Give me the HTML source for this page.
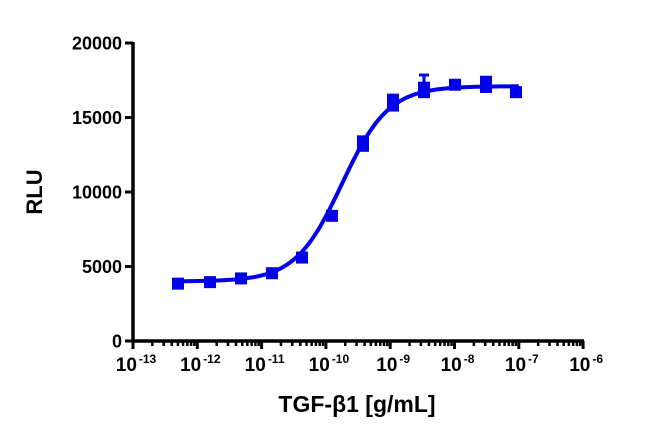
<!DOCTYPE html>
<html><head><style>body{margin:0;background:#fff}svg{display:block;font-family:"Liberation Sans",Arial,sans-serif;font-weight:bold}</style></head>
<body>
<svg id="s" width="650" height="438" viewBox="0 0 650 438"></svg>
<script>
const s=document.getElementById('s');
const X0=133,DEC=64.3,Y0=341,K=298/20000;
const xp=l=>X0+(l+13)*DEC, yp=v=>Y0-v*K;
let h='';
h+=`<line x1="${X0}" y1="${Y0}" x2="${X0}" y2="42" stroke="#000" stroke-width="3.5"/>`;
h+=`<line x1="${X0-1.5}" y1="${Y0}" x2="584" y2="${Y0}" stroke="#000" stroke-width="3.5"/>`;
for(let i=0;i<=4;i++){const y=yp(i*5000);
 h+=`<line x1="${X0-8}" y1="${y}" x2="${X0}" y2="${y}" stroke="#000" stroke-width="3"/>`;
 h+=`<text x="${X0-11}" y="${y+6.5}" font-size="18" text-anchor="end">${i*5000}</text>`;}
for(let d=-13;d<=-6;d++){const x=xp(d);
 h+=`<line x1="${x}" y1="${Y0}" x2="${x}" y2="${Y0+8}" stroke="#000" stroke-width="3"/>`;
 h+=`<text x="${x+3}" y="${Y0+30}" font-size="19" text-anchor="middle">10<tspan font-size="12" dx="2" dy="-8">${d}</tspan></text>`;
 if(d<-6)for(let m=2;m<=9;m++){const xm=xp(d+Math.log10(m));
 h+=`<line x1="${xm}" y1="${Y0}" x2="${xm}" y2="${Y0+5}" stroke="#000" stroke-width="2.5"/>`;}}
h+=`<text x="357" y="412" font-size="23" text-anchor="middle">TGF-β1 [g/mL]</text>`;
h+=`<text transform="translate(42,192) rotate(-90)" font-size="22" text-anchor="middle">RLU</text>`;
const B=4000,T=17100,E=-9.75,H=1.2;
let p='';for(let l=-12.3;l<=-7.0;l+=0.02){const v=B+(T-B)/(1+Math.pow(10,(E-l)*H));p+=(p?'L':'M')+xp(l).toFixed(1)+','+yp(v).toFixed(1);}
h+=`<path d="${p}" fill="none" stroke="#0000ee" stroke-width="4"/>`;
const pts=[[178,3850],[210,3950],[241,4200],[272,4550],[302,5600],[332,8400],[363,13100],[393,15800],[424,17000],[455,17200],[486,17050],[516,16700]];
for(const [x,v] of pts){const y=yp(v);h+=`<rect x="${x-6}" y="${y-6}" width="12" height="12" fill="#0000ee"/>`;}
h+=`<line x1="424" y1="${yp(17000)}" x2="424" y2="${yp(17850)}" stroke="#0000ee" stroke-width="3"/><line x1="419" y1="${yp(17850)}" x2="429" y2="${yp(17850)}" stroke="#0000ee" stroke-width="3"/>`;
h+=`<rect x="387" y="${yp(16200)-6}" width="12" height="12" fill="#0000ee"/><rect x="357" y="${yp(13400)-6}" width="12" height="12" fill="#0000ee"/><rect x="480" y="${yp(17400)-6}" width="12" height="12" fill="#0000ee"/><rect x="418" y="${yp(16700)-6}" width="12" height="12" fill="#0000ee"/>`;
s.innerHTML=h;
</script>
</body></html>
